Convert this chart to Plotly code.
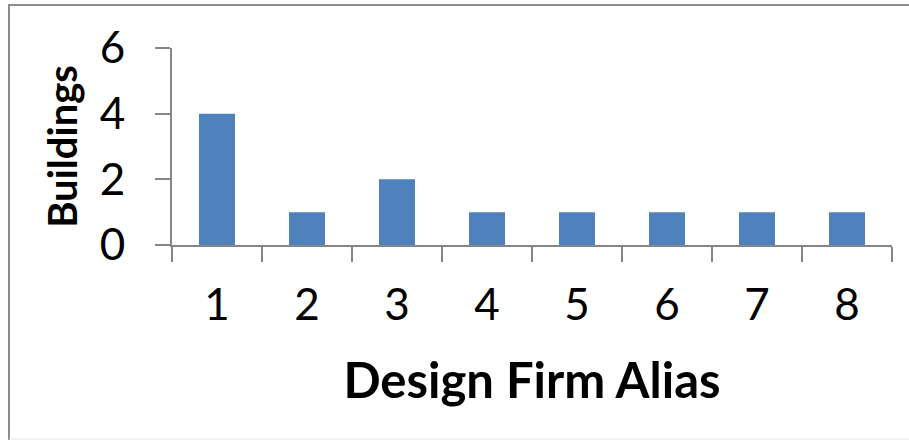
import plotly.graph_objects as go

categories = ["1", "2", "3", "4", "5", "6", "7", "8"]
buildings = [4, 1, 2, 1, 1, 1, 1, 1]
y_ticks = [0, 2, 4, 6]

W, H = 909, 440
L, R, T, B = 172, 892, 48, 245

def px(x):
    return (x - L) / (R - L)

def py(y):
    return (B - y) / (B - T)

fig = go.Figure(go.Bar(x=categories, y=buildings, marker_color="#4F81BD",
                       marker_line_width=0))

axis_color = "#868686"
fig.update_layout(
    width=W, height=H,
    margin=dict(l=L, r=W - R, t=T, b=H - B),
    paper_bgcolor="white", plot_bgcolor="white",
    bargap=0.6, showlegend=False,
    font=dict(family="Lato", color="black"),
    xaxis=dict(type="category", tickson="boundaries", ticks="outside", ticklen=15,
               tickwidth=2, tickcolor=axis_color, showline=True, linecolor=axis_color,
               linewidth=2, showgrid=False, tickfont=dict(size=44, family="Lato"),
               ticklabelstandoff=20,
               title=dict(text="<b>Design Firm Alias</b>", font=dict(size=49, family="Lato"),
                          standoff=36)),
    yaxis=dict(range=[0, 6], tickvals=y_ticks, ticks="outside", ticklen=15, tickwidth=2,
               tickcolor=axis_color, showline=True, linecolor=axis_color, linewidth=2,
               showgrid=False, zeroline=False, tickfont=dict(size=44, family="Lato"),
               ticklabelstandoff=21,
               title=dict(text="<b>Buildings</b>", font=dict(size=40, family="Lato"),
                          standoff=10)),
    shapes=[
        dict(type="line", xref="paper", yref="paper", x0=px(8), x1=px(910), y0=py(5), y1=py(5),
             line=dict(color="#8c8c8c", width=2)),
        dict(type="line", xref="paper", yref="paper", x0=px(9), x1=px(9), y0=py(5), y1=py(441),
             line=dict(color="#8c8c8c", width=2)),
        dict(type="line", xref="paper", yref="paper", x0=px(9), x1=px(910), y0=py(439), y1=py(439),
             line=dict(color="#e6e6e6", width=1)),
    ],
)

fig.write_html("out.html")
